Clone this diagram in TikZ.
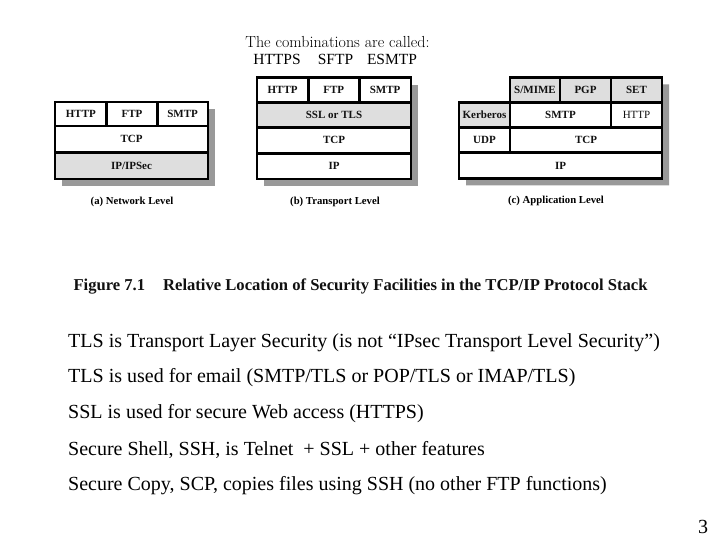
\documentclass[tikz,border=0pt]{standalone}
\usepackage{fontspec}
\setmainfont{Liberation Serif}
\newfontfamily\lmfont{Latin Modern Roman}
\usepackage{xcolor}
\definecolor{secgray}{HTML}{DEDEDE}
\definecolor{shadowgray}{HTML}{999999}
\definecolor{ink}{HTML}{111111}
\usepackage{tikz}
\usetikzlibrary{positioning}

\newcommand\cellfont{\fontsize{11}{13}\selectfont\bfseries}
\newcommand\capfont{\fontsize{10.7}{12}\selectfont\bfseries}
\newcommand\bodyfont{\fontsize{20}{23}\selectfont}

\begin{document}
\begin{tikzpicture}[x=1pt,y=-1pt,
  cell/.style={draw=black,line width=2.6pt,fill=white,inner sep=0pt,outer sep=0pt,
    anchor=north west,font=\cellfont,text=ink},
  sec/.style={cell,fill=secgray},
  shadow/.style={fill=shadowgray},
  combo/.style={anchor=base,inner sep=0pt,font=\fontsize{15.5}{17}\selectfont},
  bodyline/.style={anchor=base west,font=\bodyfont,inner sep=0pt,text=black}]
  \useasboundingbox[fill=white] (0,0) rectangle (720,540);

  % --- Titre du haut ---
  \node[anchor=base,inner sep=0pt,font=\lmfont\fontsize{16}{18}\selectfont] (combi) at (337.5,47.3) {The combinations are called:};
  \node[combo] (https) at (277,65) {HTTPS};
  \node[combo] (sftp) at (335.5,65) {SFTP};
  \node[combo] (esmtp) at (392,65) {ESMTP};

  % --- Ombres ---
  \fill[shadow] (62,109) rectangle (215,186);
  \fill[shadow] (264,84.7) rectangle (418,186);
  \fill[shadow] (517,84.3) -- (669,84.3) -- (669,185.3) -- (466,185.3) -- (466,109.7) -- (517,109.7) -- cycle;

  % --- (a) Network Level ---
  \node[cell,minimum width=51.7,minimum height=24] (ahttp) at (55,102) {HTTP};
  \node[cell,minimum width=50.6,minimum height=24] (aftp) at (106.7,102) {FTP};
  \node[cell,minimum width=50.7,minimum height=24] (asmtp) at (157.3,102) {SMTP};
  \node[cell,minimum width=153,minimum height=26.7] (atcp) at (55,126) {TCP};
  \node[sec,minimum width=153,minimum height=26.3] (aip) at (55,152.7) {IP/IPSec};
  \node[font=\capfont] (acap) at (132,201.7) {(a) Network Level};

  % --- (b) Transport Level ---
  \node[cell,minimum width=51.3,minimum height=24.6] (bhttp) at (257,77.7) {HTTP};
  \node[cell,minimum width=51,minimum height=24.6] (bftp) at (308.3,77.7) {FTP};
  \node[cell,minimum width=51.7,minimum height=24.6] (bsmtp) at (359.3,77.7) {SMTP};
  \node[sec,minimum width=154,minimum height=25] (bssl) at (257,102.3) {SSL or TLS};
  \node[cell,minimum width=154,minimum height=26] (btcp) at (257,127.3) {TCP};
  \node[cell,minimum width=154,minimum height=25.7] (bip) at (257,153.3) {IP};
  \node[font=\capfont] (bcap) at (335,201.7) {(b) Transport Level};

  % --- (c) Application Level ---
  \node[sec,minimum width=50,minimum height=25.4] (csmime) at (510,77.3) {S/MIME};
  \node[sec,minimum width=51,minimum height=25.4] (cpgp) at (560,77.3) {PGP};
  \node[sec,minimum width=51,minimum height=25.4] (cset) at (611,77.3) {SET};
  \node[sec,minimum width=51,minimum height=24.6] (ckerb) at (459,102.7) {Kerberos};
  \node[cell,minimum width=101,minimum height=24.6] (csmtp) at (510,102.7) {SMTP};
  \node[cell,minimum width=51,minimum height=24.6,font=\fontsize{11}{13}\selectfont] (chttp) at (611,102.7) {HTTP};
  \node[cell,minimum width=51,minimum height=25.4] (cudp) at (459,127.3) {UDP};
  \node[cell,minimum width=152,minimum height=25.4] (ctcp) at (510,127.3) {TCP};
  \node[cell,minimum width=203,minimum height=25.6] (cip) at (459,152.7) {IP};
  \node[font=\capfont] (ccap) at (556,200.5) {(c) Application Level};

  % --- Légende de la figure ---
  \node[anchor=base,inner sep=0pt,font=\fontsize{16.6}{19}\selectfont\bfseries,text=ink] (fig) at (360.5,290)
    {Figure 7.1\hspace{18pt}Relative Location of Security Facilities in the TCP/IP Protocol Stack};

  % --- Texte ---
  \node[bodyline] (l1) at (68,347) {TLS is Transport Layer Security (is not “IPsec Transport Level Security”)};
  \node[bodyline] (l2) at (68,382) {TLS is used for email (SMTP/TLS or POP/TLS or IMAP/TLS)};
  \node[bodyline] (l3) at (68,418) {SSL is used for secure Web access (HTTPS)};
  \node[bodyline] (l4) at (68,455) {Secure Shell, SSH, is Telnet \ + SSL + other features};
  \node[bodyline] (l5) at (68,490) {Secure Copy, SCP, copies files using SSH (no other FTP functions)};
  \node[anchor=base,font=\bodyfont,inner sep=0pt] (page) at (703,533) {3};
\end{tikzpicture}
\end{document}
